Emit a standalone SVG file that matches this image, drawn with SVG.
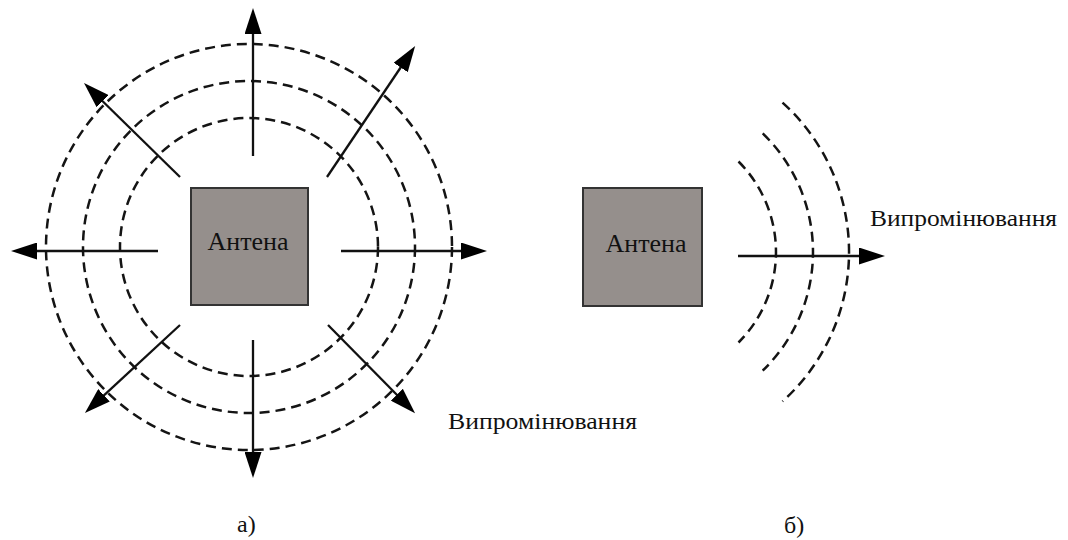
<svg xmlns="http://www.w3.org/2000/svg" width="1068" height="540" viewBox="0 0 1068 540">
  <style>
    .wave { fill: none; stroke: #141414; stroke-width: 2.5; stroke-dasharray: 10 6; }
    .ray { stroke: #111; stroke-width: 2.3; fill: none; marker-end: url(#head); }
    .box { fill: #958f8c; stroke: #333; stroke-width: 2; }
    text { fill: #111; }
  </style>
  <defs>
    <marker id="head" markerUnits="userSpaceOnUse" markerWidth="26" markerHeight="17" viewBox="0 0 26 17" refX="6" refY="8.5" orient="auto">
      <path d="M0,0 L26,8.5 L0,17 z" fill="#000"/>
    </marker>
  </defs>
  <rect width="1068" height="540" fill="#fff"/>

  <!-- a) omnidirectional radiation -->
  <g id="waves-omni">
    <circle class="wave" cx="249" cy="247" r="129"/>
    <circle class="wave" cx="249" cy="247" r="166"/>
    <circle class="wave" cx="249" cy="247" r="203"/>
  </g>
  <g id="rays-omni">
    <line class="ray" x1="253" y1="156" x2="253" y2="28"/>
    <line class="ray" x1="253" y1="340" x2="253" y2="458"/>
    <line class="ray" x1="158" y1="251" x2="31" y2="251"/>
    <line class="ray" x1="341" y1="251" x2="467" y2="251"/>
    <line class="ray" x1="327" y1="177" x2="404" y2="62.5"/>
    <line class="ray" x1="180" y1="177" x2="98.3" y2="97"/>
    <line class="ray" x1="180" y1="325" x2="99.6" y2="399.4"/>
    <line class="ray" x1="328" y1="325" x2="401" y2="399"/>
  </g>
  <g id="antenna-omni">
    <rect class="box" x="191" y="188" width="117" height="117"/>
    <text x="248" y="250" font-family="Liberation Serif, DejaVu Serif, serif" font-size="26" text-anchor="middle">Антена</text>
  </g>
  <text x="448" y="429" font-family="Liberation Serif, DejaVu Serif, serif" font-size="24" textLength="189" lengthAdjust="spacingAndGlyphs">Випромінювання</text>
  <text x="237" y="532" font-family="Liberation Serif, DejaVu Serif, serif" font-size="24">а)</text>

  <!-- б) directional radiation -->
  <g id="antenna-dir">
    <rect class="box" x="583" y="188" width="119" height="118"/>
    <text x="646" y="252" font-family="Liberation Serif, DejaVu Serif, serif" font-size="26" text-anchor="middle">Антена</text>
  </g>
  <g id="waves-dir">
    <path class="wave" d="M738.5,161.5 A128,128 0 0 1 738.5,342.5"/>
    <path class="wave" d="M762.7,133.4 A165,165 0 0 1 762.7,370.6"/>
    <path class="wave" d="M782.5,102.6 A201,201 0 0 1 782.5,401.4"/>
  </g>
  <g id="ray-dir">
    <line class="ray" x1="738" y1="256" x2="865" y2="256"/>
  </g>
  <text x="870" y="226" font-family="Liberation Serif, DejaVu Serif, serif" font-size="24" textLength="187" lengthAdjust="spacingAndGlyphs">Випромінювання</text>
  <text x="784" y="533" font-family="Liberation Serif, DejaVu Serif, serif" font-size="24">б)</text>
</svg>
